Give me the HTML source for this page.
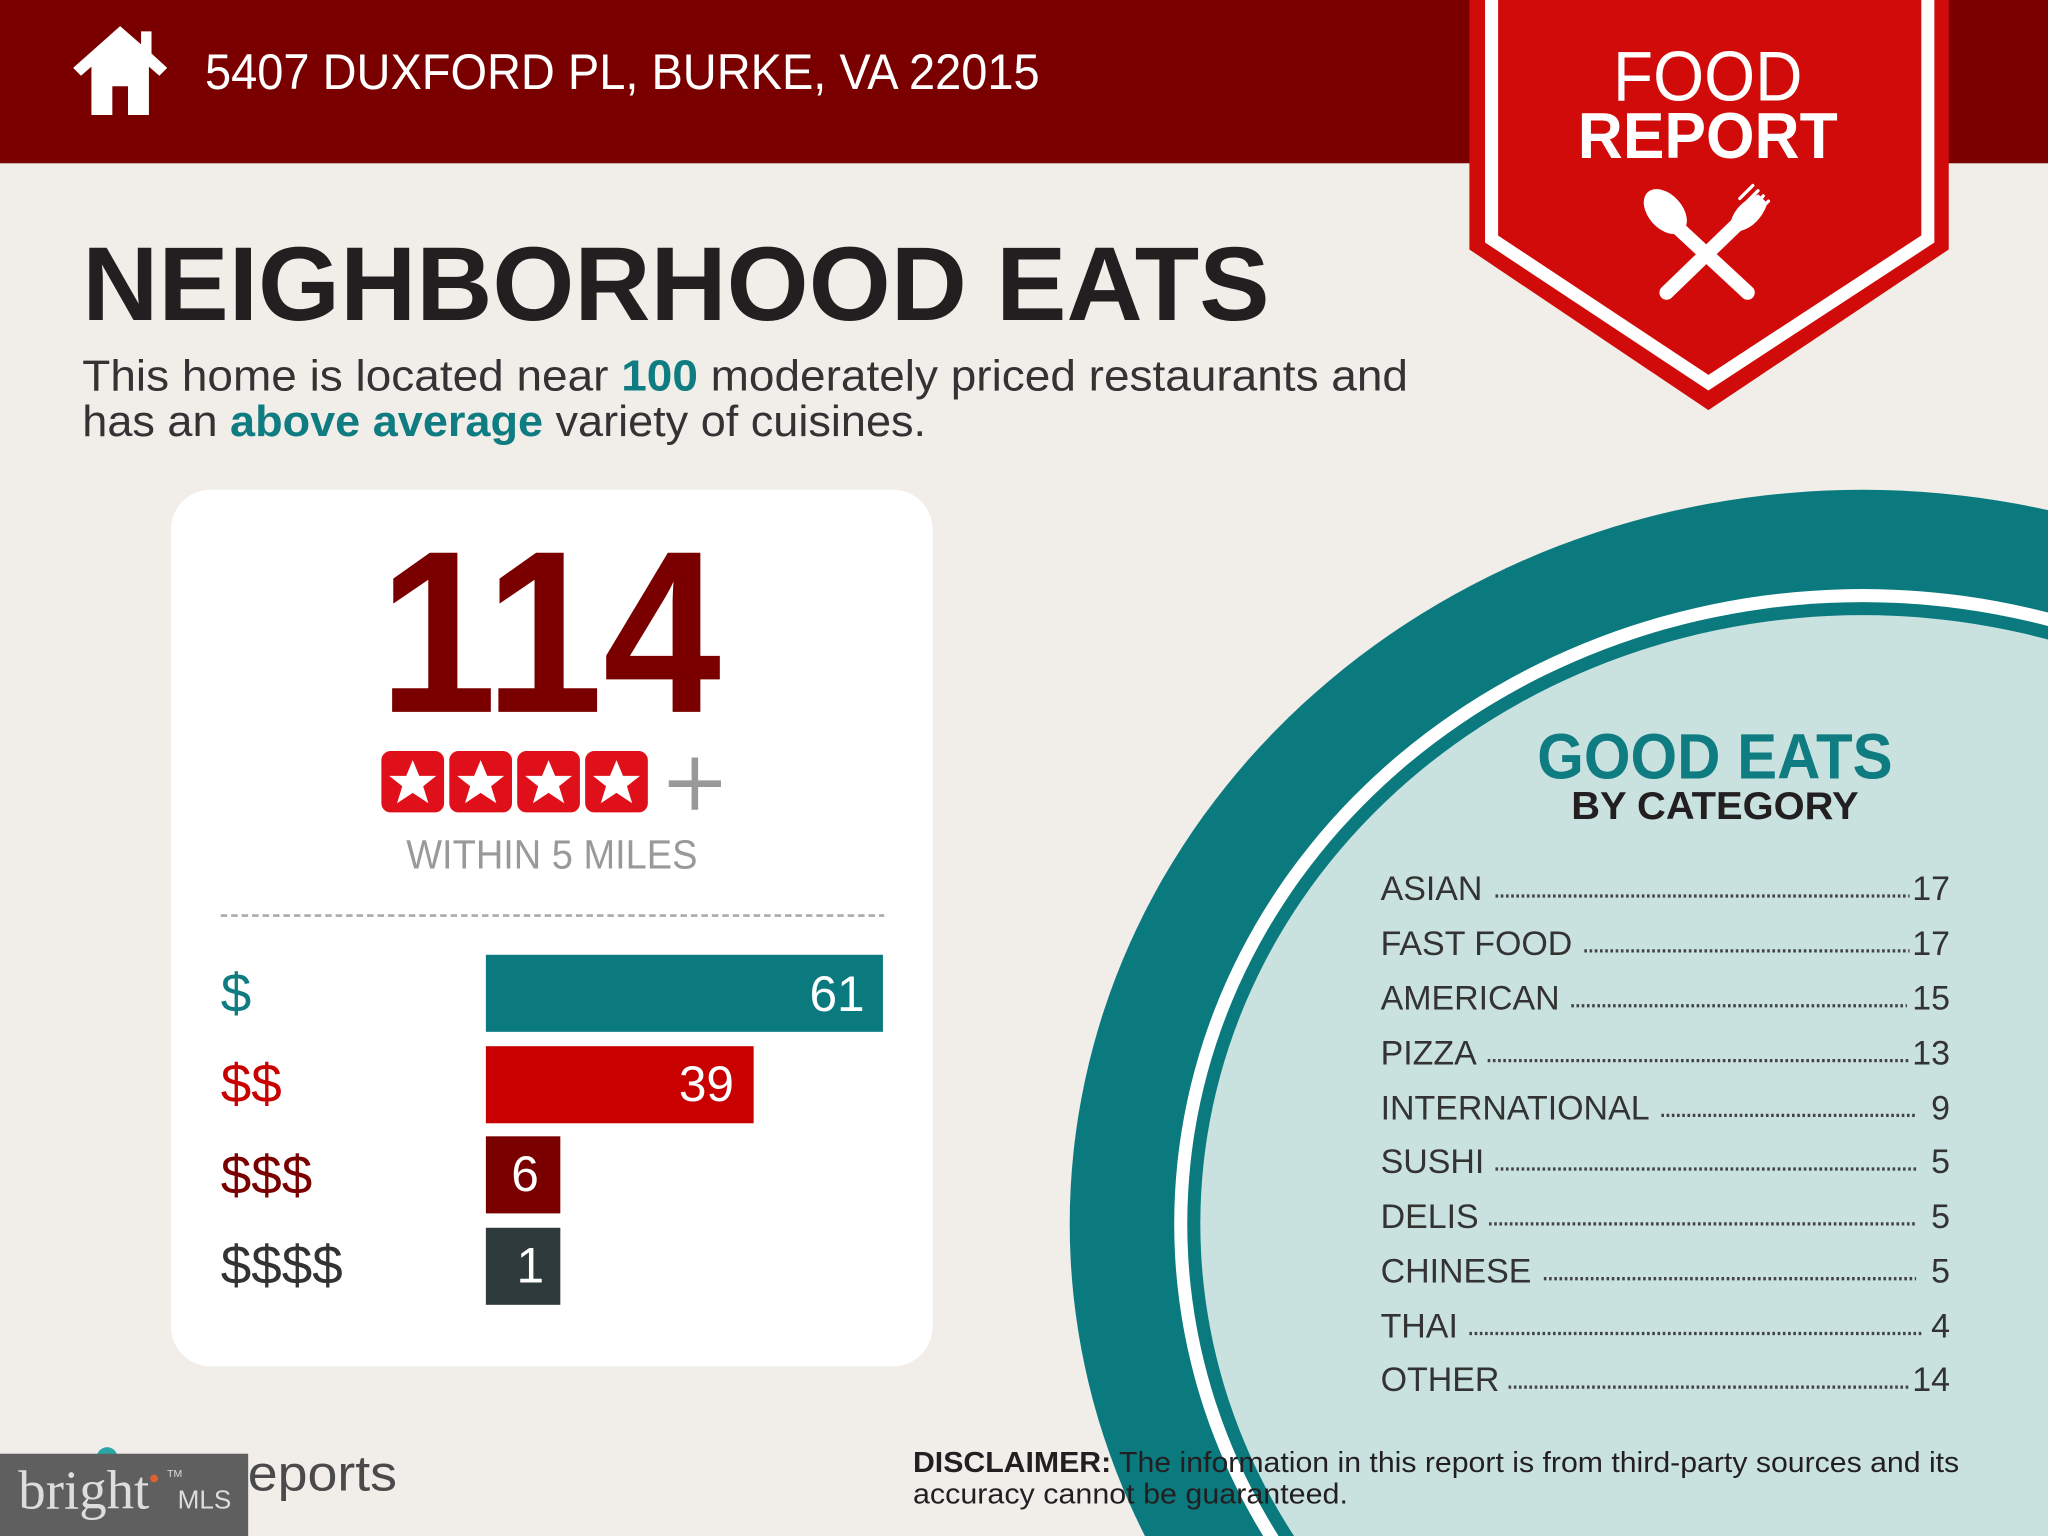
<!DOCTYPE html>
<html><head><meta charset="utf-8"><style>
html,body{margin:0;padding:0;background:#f0ece8;width:2048px;height:1536px;overflow:hidden;}
svg{display:block;}
</style></head><body>
<svg width="2048" height="1536" viewBox="0 0 1568 1176" xmlns="http://www.w3.org/2000/svg" font-family="Liberation Sans, sans-serif">
<rect width="1568" height="1176" fill="#f1ede9"/>
<!-- circle -->
<ellipse cx="1426" cy="937" rx="607" ry="562" fill="#0b7a7e"/>
<ellipse cx="1426" cy="937" rx="527" ry="486" fill="#ffffff"/>
<ellipse cx="1426" cy="937" rx="517" ry="476" fill="#0b7a7e"/>
<ellipse cx="1426" cy="937" rx="507" ry="466" fill="#c9e2e0"/>
<!-- header -->
<rect width="1568" height="125" fill="#7a0000"/>
<path d="M92 20 L56 52 L62 58 L70 51 L70 88 L86 88 L86 66 L98 66 L98 88 L114 88 L114 51 L122 58 L128 52 L116 41 L116 24 L108 24 L108 34 Z" fill="#fff"/>
<text x="157" y="68" font-size="38" fill="#fff" textLength="639" lengthAdjust="spacingAndGlyphs">5407 DUXFORD PL, BURKE, VA 22015</text>
<!-- badge -->
<polygon points="1125,0 1492,0 1492,191 1308,314 1125,191" fill="#d10a0a"/>
<polyline points="1142,0 1142,183 1308,293 1476,183 1476,0" fill="none" stroke="#fff" stroke-width="10"/>
<text x="1235" y="77" font-size="54" fill="#fff" textLength="145" lengthAdjust="spacingAndGlyphs">FOOD</text>
<text x="1208" y="121" font-size="50" font-weight="bold" fill="#fff" textLength="199" lengthAdjust="spacingAndGlyphs">REPORT</text>
<g fill="#fff" stroke="#fff" stroke-linecap="round">
<line x1="1336" y1="166" x2="1276" y2="224" stroke-width="11"/>
<line x1="1282" y1="172" x2="1338" y2="224" stroke-width="11"/>
<ellipse cx="1275" cy="162" rx="13" ry="20" transform="rotate(-42 1275 162)" stroke="none"/>
<path d="M1326 170 Q1330 156 1346 150 L1352 156 Q1346 172 1332 176 Z" stroke-width="2"/>
<line x1="1336" y1="156" x2="1346" y2="146" stroke-width="2.5"/>
<line x1="1340" y1="160" x2="1350" y2="150" stroke-width="2.5"/>
<line x1="1344" y1="164" x2="1354" y2="154" stroke-width="2.5"/>
<line x1="1332" y1="152" x2="1342" y2="142" stroke-width="2.5"/>
</g>
<!-- title -->
<text x="63" y="245" font-size="80" font-weight="bold" fill="#231f20" textLength="909" lengthAdjust="spacingAndGlyphs">NEIGHBORHOOD EATS</text>
<text x="63" y="299" font-size="33" fill="#333" textLength="1015" lengthAdjust="spacingAndGlyphs">This home is located near <tspan font-weight="bold" fill="#0e7c80">100</tspan> moderately priced restaurants and</text>
<text x="63" y="334" font-size="33" fill="#333" textLength="646" lengthAdjust="spacingAndGlyphs">has an <tspan font-weight="bold" fill="#0e7c80">above average</tspan> variety of cuisines.</text>
<!-- card -->
<rect x="131" y="375" width="583" height="671" rx="30" fill="#fff"/>
<text x="290" y="545" font-size="177" font-weight="bold" fill="#7a0000" textLength="262" lengthAdjust="spacingAndGlyphs">114</text>
<g fill="#e0101a">
<rect x="292" y="575" width="48" height="47" rx="7"/><rect x="344" y="575" width="48" height="47" rx="7"/><rect x="396" y="575" width="48" height="47" rx="7"/><rect x="448" y="575" width="48" height="47" rx="7"/>
</g>
<g fill="#fff">
<polygon id="st" points="316,582 321,594 334,594 324,602 328,615 316,607 304,615 308,602 298,594 311,594"/>
<use href="#st" x="52"/><use href="#st" x="104"/><use href="#st" x="156"/>
</g>
<path d="M532 580 V620 M512 600 H552" stroke="#999" stroke-width="5"/>
<text x="311" y="665" font-size="31" fill="#999" textLength="223" lengthAdjust="spacingAndGlyphs">WITHIN 5 MILES</text>
<line x1="169" y1="701" x2="677" y2="701" stroke="#aaa" stroke-width="2" stroke-dasharray="5 3"/>
<rect x="372" y="731" width="304" height="59" fill="#0b7a7e"/>
<rect x="372" y="801" width="205" height="59" fill="#c80000"/>
<rect x="372" y="870" width="57" height="59" fill="#7a0000"/>
<rect x="372" y="940" width="57" height="59" fill="#2e3a3b"/>
<g font-size="42">
<text x="169" y="775" fill="#0e7c80">$</text>
<text x="169" y="844" fill="#c80000">$$</text>
<text x="169" y="914" fill="#7a0000">$$$</text>
<text x="169" y="983" fill="#333">$$$$</text>
</g>
<g font-size="38" fill="#fff">
<text x="662" y="774" text-anchor="end">61</text>
<text x="562" y="843" text-anchor="end">39</text>
<text x="402" y="912" text-anchor="middle">6</text>
<text x="406" y="982" text-anchor="middle">1</text>
</g>
<!-- good eats -->
<text x="1313" y="596" font-size="49" font-weight="bold" fill="#0e7c80" text-anchor="middle" textLength="272" lengthAdjust="spacingAndGlyphs">GOOD EATS</text>
<text x="1313" y="627" font-size="30" font-weight="bold" fill="#231f20" text-anchor="middle" textLength="220" lengthAdjust="spacingAndGlyphs">BY CATEGORY</text>
<g font-size="26" fill="#333">
<text x="1057" y="689">ASIAN</text>
<text x="1057" y="731">FAST FOOD</text>
<text x="1057" y="773">AMERICAN</text>
<text x="1057" y="815">PIZZA</text>
<text x="1057" y="857">INTERNATIONAL</text>
<text x="1057" y="898">SUSHI</text>
<text x="1057" y="940">DELIS</text>
<text x="1057" y="982">CHINESE</text>
<text x="1057" y="1024">THAI</text>
<text x="1057" y="1065">OTHER</text>
</g>
<g font-size="26" fill="#333" text-anchor="end">
<text x="1493" y="689">17</text><text x="1493" y="731">17</text><text x="1493" y="773">15</text><text x="1493" y="815">13</text><text x="1493" y="857">9</text><text x="1493" y="898">5</text><text x="1493" y="940">5</text><text x="1493" y="982">5</text><text x="1493" y="1024">4</text><text x="1493" y="1065">14</text>
</g>
<g stroke="#444" stroke-width="2.5" stroke-dasharray="2 2">
<line x1="1145" y1="686" x2="1462" y2="686"/>
<line x1="1213" y1="728" x2="1462" y2="728"/>
<line x1="1203" y1="770" x2="1460" y2="770"/>
<line x1="1139" y1="812" x2="1462" y2="812"/>
<line x1="1272" y1="854" x2="1467" y2="854"/>
<line x1="1145" y1="895" x2="1467" y2="895"/>
<line x1="1140" y1="937" x2="1467" y2="937"/>
<line x1="1182" y1="979" x2="1467" y2="979"/>
<line x1="1125" y1="1021" x2="1471" y2="1021"/>
<line x1="1155" y1="1062" x2="1462" y2="1062"/>
</g>
<!-- footer -->
<text x="699" y="1127" font-size="22" fill="#231f20" textLength="801" lengthAdjust="spacingAndGlyphs"><tspan font-weight="bold">DISCLAIMER:</tspan> The information in this report is from third-party sources and its</text>
<text x="699" y="1151" font-size="22" fill="#231f20" textLength="333" lengthAdjust="spacingAndGlyphs">accuracy cannot be guaranteed.</text>
<circle cx="82" cy="1116" r="8" fill="#2aa6a6"/>
<text x="160" y="1141" font-size="38" fill="#4a4a4a" textLength="144" lengthAdjust="spacingAndGlyphs">Reports</text>
<rect x="0" y="1113" width="190" height="63" fill="#5f5f5f"/>
<text x="14" y="1155" font-family="Liberation Serif, serif" font-size="42" fill="#ddd">bright</text>
<text x="136" y="1155" font-size="20" fill="#ddd">MLS</text>
<text x="128" y="1131" font-size="8" fill="#ddd">TM</text>
<circle cx="118" cy="1132" r="3" fill="#e06030"/>
</svg>
</body></html>
